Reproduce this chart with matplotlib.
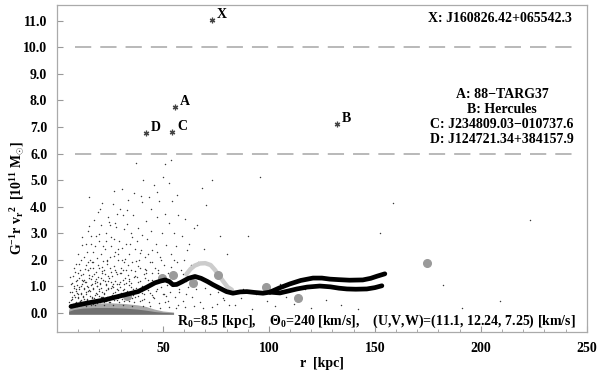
"""
Mass estimator G^-1 r v_r^2 against galactocentric radius r.
Scatter of tracer points, running mean curves, outlier stars.
"""

import matplotlib
matplotlib.use("Agg")
import matplotlib.pyplot as plt
import matplotlib.ticker as mticker

plt.rcParams["font.family"] = ["Liberation Serif", "DejaVu Serif"]
plt.rcParams["font.weight"] = "bold"
plt.rcParams["mathtext.fontset"] = "custom"
plt.rcParams["mathtext.rm"] = "Liberation Serif:bold"
plt.rcParams["mathtext.it"] = "Liberation Serif:bold"
plt.rcParams["mathtext.bf"] = "Liberation Serif:bold"

# ---- data (r in kpc, m in 10^11 Msun) ----
cloud_low = [
    (5.8, 0.42), (6.3, 0.78), (6.9, 0.52), (7.3, 1.12), (7.8, 0.66), (8.4, 0.38),
    (8.9, 0.84), (9.3, 1.22), (9.8, 0.58), (10.3, 0.97), (10.8, 0.44), (11.2, 0.73),
    (11.6, 1.08), (12.2, 0.62), (12.6, 0.92), (13.0, 0.41), (13.5, 0.78), (13.9, 1.18),
    (14.3, 0.52), (14.7, 0.99), (15.1, 0.36), (15.5, 0.81), (15.9, 1.28), (16.5, 0.57),
    (16.9, 0.93), (17.3, 0.43), (17.7, 1.14), (18.1, 0.68), (18.7, 0.38), (19.1, 1.02),
    (19.5, 0.49), (19.9, 0.83), (20.4, 0.42), (20.8, 0.95), (21.3, 0.61), (21.9, 1.24),
    (22.4, 0.74), (22.9, 0.45), (23.3, 1.06), (23.8, 0.58), (24.3, 0.88), (24.8, 0.39),
    (25.3, 1.16), (25.9, 0.67), (26.4, 0.97), (27.0, 0.47), (27.6, 0.79), (28.1, 1.09),
    (28.7, 0.56), (29.3, 0.41), (29.8, 0.96), (30.6, 0.52), (31.2, 0.87), (31.8, 0.43),
    (32.6, 1.14), (33.3, 0.63), (34.1, 0.46), (34.8, 0.99), (35.6, 0.57), (36.3, 0.39),
    (37.2, 0.82), (38.1, 0.62), (39.0, 0.44), (40.0, 0.76), (41.1, 0.51), (42.3, 0.93),
    (43.5, 0.42), (44.7, 0.68), (46.0, 0.55), (48.0, 0.38), (50.5, 0.72), (52.5, 0.45),
    (6.1, 1.35), (8.7, 1.55), (11.4, 1.42), (14.5, 1.62), (17.5, 1.47), (21.0, 1.58),
    (24.0, 1.39), (27.2, 1.63), (30.2, 1.49), (33.9, 1.26), (37.8, 1.36), (42.0, 1.51),
]

cloud_mid = [
    (7.6, 0.28), (8.2, 1.03), (9.7, 0.71), (10.6, 1.84), (11.3, 0.31), (12.4, 1.21),
    (12.9, 0.53), (13.2, 1.66), (14.4, 0.83), (14.9, 1.44), (15.7, 0.64), (16.3, 1.93),
    (16.7, 1.07), (17.1, 0.34), (18.3, 1.29), (18.8, 0.71), (19.3, 1.82), (20.1, 1.13),
    (20.7, 0.58), (21.1, 1.74), (22.0, 0.39), (22.7, 1.47), (23.1, 0.86), (23.6, 1.96),
    (24.1, 1.21), (24.6, 0.54), (25.1, 1.68), (25.7, 0.92), (26.1, 1.37), (26.8, 2.16),
    (27.3, 0.63), (27.9, 1.52), (28.4, 0.88), (28.9, 2.41), (29.6, 1.18), (30.4, 0.74),
    (31.0, 1.62), (31.6, 1.09), (32.3, 2.04), (32.9, 0.81), (33.6, 1.44), (34.4, 2.61),
    (35.0, 1.12), (35.9, 0.68), (36.7, 1.58), (37.4, 0.94), (38.3, 1.76), (39.2, 1.21),
    (39.8, 2.38), (40.7, 0.89), (41.6, 1.67), (42.8, 1.24), (43.9, 0.73), (44.9, 1.93),
    (45.6, 1.18), (46.7, 0.81), (47.6, 1.61), (48.9, 0.96), (50.1, 1.42), (51.6, 0.62),
    (53.6, 1.72), (55.6, 1.14), (57.6, 0.77), (59.6, 1.48), (61.6, 0.98), (9.4, 0.26),
    (13.6, 0.27), (17.8, 0.29), (22.2, 0.31), (26.6, 0.28), (31.3, 0.30), (35.3, 0.27),
    (40.4, 0.26), (44.1, 0.24), (48.5, 0.19), (52.9, 0.22), (56.1, 0.17), (60.6, 0.21),
    (64.8, 0.25), (68.7, 0.18), (73.2, 0.22), (11.9, 2.84), (15.2, 3.27), (19.6, 2.96),
    (24.7, 3.42), (28.2, 3.74), (33.2, 3.86), (36.2, 4.52), (40.1, 4.18), (44.4, 3.92),
    (47.2, 4.57), (50.9, 3.73), (56.6, 4.43),
]

cloud_high = [
    # r 5-12
    (6.5, 0.5), (6.8, 1.1), (7.2, 0.8), (7.5, 1.4), (7.7, 0.35), (8.0, 0.95),
    (8.2, 1.7), (8.5, 0.6), (8.8, 1.2), (9.0, 0.4), (9.1, 1.85), (9.4, 0.75),
    (9.6, 1.05), (9.9, 1.5), (10.1, 0.55), (10.3, 0.9), (10.5, 1.3), (10.8, 0.45),
    (11.0, 1.6), (11.2, 0.7), (11.4, 1.0), (11.6, 2.55), (11.7, 0.35), (11.9, 1.25),
    (11.5, 2.0), (7.0, 0.6), (8.4, 0.3), (10.0, 2.2), (9.2, 0.9), (11.1, 0.5),
    # r 12-22
    (12.2, 0.6), (12.4, 1.45), (12.6, 0.9), (12.9, 2.1), (13.1, 0.4), (13.3, 1.15),
    (13.5, 1.8), (13.7, 0.7), (13.9, 2.6), (14.1, 1.0), (14.3, 0.5), (14.5, 1.6),
    (14.7, 3.1), (14.9, 0.85), (15.1, 1.3), (15.3, 4.38), (15.4, 2.0), (15.6, 0.45),
    (15.8, 1.7), (16.0, 1.05), (16.2, 2.9), (16.4, 0.6), (16.6, 1.4), (16.8, 2.3),
    (17.0, 0.9), (17.2, 1.9), (17.4, 0.55), (17.6, 3.5), (17.8, 1.2), (18.0, 2.5),
    (18.2, 0.75), (18.4, 1.55), (18.6, 0.4), (18.8, 2.05), (19.0, 1.0), (19.2, 3.8),
    (19.4, 1.35), (19.6, 0.65), (19.8, 2.7), (20.0, 1.7), (20.2, 0.5), (20.4, 1.1),
    (20.6, 2.2), (20.8, 3.3), (21.0, 0.8), (21.2, 1.5), (21.4, 4.15), (21.6, 0.6),
    (21.8, 1.95), (12.7, 1.25), (13.8, 0.35), (14.8, 1.9), (15.9, 0.3), (16.9, 1.7),
    (17.9, 0.45), (18.9, 1.15), (19.9, 0.9), (20.9, 1.3), (21.9, 2.5), (14.0, 2.3),
    (16.1, 2.6), (18.3, 2.9), (20.5, 3.9),
    # r 22-32
    (22.1, 0.7), (22.3, 1.6), (22.6, 2.4), (22.9, 1.1), (23.2, 3.0), (23.4, 0.5),
    (23.7, 1.85), (24.0, 0.95), (24.3, 3.6), (24.5, 1.3), (24.8, 2.1), (25.1, 0.6),
    (25.4, 1.55), (25.6, 2.85), (25.9, 1.0), (26.2, 4.1), (26.4, 0.75), (26.7, 1.75),
    (27.0, 4.6), (27.2, 2.3), (27.5, 1.2), (27.8, 0.55), (28.0, 3.25), (28.3, 1.45),
    (28.6, 2.0), (28.9, 0.85), (29.1, 2.7), (29.4, 1.1), (29.7, 3.9), (30.0, 0.65),
    (30.2, 1.7), (30.5, 4.65), (30.8, 2.45), (31.1, 1.25), (31.4, 0.9), (31.7, 3.15),
    (22.5, 1.2), (23.5, 2.0), (24.5, 0.4), (25.5, 2.5), (26.5, 1.1), (27.5, 3.4),
    (28.5, 0.5), (29.5, 1.5), (30.5, 2.0), (31.5, 1.9), (23.0, 2.7), (25.0, 3.3),
    (27.0, 2.8), (29.0, 2.2), (31.0, 3.7),
    # r 32-42
    (32.1, 1.3), (32.4, 2.6), (32.7, 0.7), (33.0, 3.35), (33.3, 1.8), (33.6, 4.25),
    (33.9, 1.05), (34.2, 2.2), (34.5, 0.55), (34.8, 3.0), (35.1, 1.6), (35.4, 2.85),
    (35.7, 0.9), (36.0, 3.7), (36.3, 1.35), (36.6, 2.4), (36.9, 0.6), (37.2, 1.95),
    (37.5, 5.65), (37.8, 2.7), (38.1, 1.15), (38.4, 3.2), (38.7, 0.8), (39.0, 1.7),
    (39.3, 2.25), (39.6, 4.4), (39.9, 1.0), (40.2, 2.95), (40.6, 5.0), (40.9, 1.45),
    (41.2, 0.7), (41.5, 2.1), (41.8, 3.45), (32.5, 1.6), (34.0, 1.2), (35.5, 1.9),
    (37.0, 1.4), (38.5, 2.0), (40.0, 0.5), (41.5, 1.3),
    # r 42-52
    (42.2, 1.6), (42.6, 2.8), (43.0, 0.85), (43.4, 4.35), (43.8, 1.9), (44.2, 3.1),
    (44.6, 1.25), (45.0, 2.35), (45.4, 0.6), (45.8, 4.8), (46.2, 1.7), (46.6, 2.6),
    (47.0, 3.6), (47.4, 0.9), (47.8, 1.5), (48.2, 4.2), (48.6, 2.1), (49.0, 1.35),
    (49.4, 3.0), (49.8, 0.7), (50.2, 5.1), (50.6, 1.8), (51.0, 5.6), (51.4, 2.55),
    (51.8, 1.05), (43.0, 2.2), (45.0, 1.5), (47.0, 2.3), (49.0, 2.0), (51.0, 0.4),
    # r 52-62
    (52.3, 1.5), (52.8, 3.4), (53.3, 0.8), (53.8, 2.2), (54.0, 5.77), (54.4, 4.2),
    (54.8, 1.3), (55.3, 3.0), (55.8, 0.6), (56.3, 2.5), (56.8, 1.9), (57.3, 3.7),
    (57.8, 0.9), (58.3, 1.6), (58.8, 2.9), (59.3, 0.45), (59.8, 2.0), (60.3, 3.55),
    (60.8, 1.2), (61.3, 2.35), (53.0, 4.9), (55.0, 2.0), (57.0, 0.3), (59.0, 1.2),
    (61.0, 0.7),
    # r 62-82, sparse
    (62.5, 2.6), (63.5, 0.6), (64.5, 3.2), (65.5, 0.9), (66.5, 1.9), (67.5, 0.4),
    (68.5, 4.7), (69.5, 2.4), (70.5, 4.07), (72.0, 0.7), (73.0, 5.0), (74.5, 1.6),
    (75.5, 0.35), (77.0, 2.9), (78.5, 0.55), (80.0, 2.2), (81.0, 0.3), (63.0, 1.8),
    (66.0, 3.3), (70.0, 0.95), (76.0, 0.8), (79.0, 0.5),
    # r > 82, very sparse
    (84, 0.3), (87, 0.55), (90, 2.9), (92, 0.15), (96, 5.1), (99, 0.45),
    (103, 0.25), (108, 0.6), (112, 0.35), (120, 0.2), (127, 0.5), (134, 0.3),
    (142, 0.15), (152.5, 3.0), (158.5, 4.15), (182, 1.06), (191, 0.2), (209, 0.45),
    (223, 3.5), (88, 0.9), (94, 0.7), (105, 1.1), (117, 0.9),
]

# dense low band of points near zero (outer lighter and inner darker part)
band_r = [5.5, 8, 12, 18, 25, 32, 38, 42, 46, 50, 55]
band_top = [0.14, 0.26, 0.34, 0.37, 0.38, 0.35, 0.30, 0.24, 0.14, 0.07, 0.03]
band_core = [0.06, 0.13, 0.18, 0.20, 0.20, 0.18, 0.14, 0.10, 0.05, 0.02, 0.0]

# running estimator curves
main_r = [6.6, 10, 15, 22.6, 30, 38.2, 42, 46.2, 49, 51, 53, 54.7, 56.5, 59, 62,
          65.1, 68, 71, 73.6, 77, 80, 83, 86.5, 89.6, 93, 97.2, 100.5]
main_m = [0.24, 0.30, 0.38, 0.49, 0.64, 0.80, 0.95, 1.13, 1.20, 1.24, 1.18, 1.06,
          1.07, 1.17, 1.30, 1.37, 1.30, 1.18, 1.06, 0.92, 0.80, 0.74, 0.79, 0.80,
          0.77, 0.74, 0.78]
upper_r = [100.5, 105, 109.9, 115, 120.8, 125, 128.8, 133, 138, 144.3, 148, 151, 154.7]
upper_m = [0.78, 0.94, 1.09, 1.22, 1.31, 1.31, 1.27, 1.25, 1.23, 1.24, 1.30, 1.38, 1.47]
lower_r = [100.5, 105.2, 109, 113.2, 118, 124, 129, 133, 136.8, 141, 146.2, 150, 153.3]
lower_m = [0.78, 0.75, 0.82, 0.90, 0.97, 1.01, 0.98, 0.93, 0.90, 0.89, 0.90, 0.95, 1.02]
arc_r = [61, 63, 65, 67.5, 70, 72.5, 74.5, 76.5, 78.5, 80.5, 82.5]
arc_m = [1.45, 1.65, 1.78, 1.86, 1.87, 1.80, 1.62, 1.40, 1.18, 0.97, 0.87]

# binned points (large grey dots)
bin_r = [32.9, 49.4, 54.7, 64.2, 75.9, 98.6, 113.7, 174.5]
bin_m = [0.62, 1.32, 1.43, 1.13, 1.43, 0.98, 0.57, 1.89]

# outlier objects
star_names = ["X", "A", "D", "C", "B"]
star_r = [73.0, 55.7, 41.8, 54.4, 131.9]
star_m = [11.04, 7.76, 6.79, 6.83, 7.12]

limit_levels = [6.0, 10.0]

id_lines = [
    "A: 88\u2212TARG37",
    "B: Hercules",
    "C: J234809.03\u2212010737.6",
    "D: J124721.34+384157.9",
]

# ---- figure ----
fig = plt.figure(figsize=(6.0, 3.73), dpi=100)
ax = fig.add_axes([0.095, 0.110, 0.883, 0.877])

ax.fill_between(band_r, -0.05, band_top, color="#a8a8a8", linewidth=0, zorder=1)
ax.fill_between(band_r, -0.05, band_core, color="#707070", linewidth=0, zorder=1)

for pts in (cloud_low, cloud_mid, cloud_high):
    ax.scatter([p[0] for p in pts], [p[1] for p in pts],
               s=1.1, color="#3a3a3a", linewidths=0, zorder=2)

ax.plot(arc_r, arc_m, color="#cccccc", linewidth=3.2, zorder=3,
        solid_capstyle="round")
ax.plot(bin_r, bin_m, linestyle="none", marker="o", markersize=5.5,
        color="#9a9a9a", zorder=3)

for rr, mm in [(main_r, main_m), (upper_r, upper_m), (lower_r, lower_m)]:
    ax.plot(rr, mm, color="black", linewidth=3.4, zorder=4,
            solid_capstyle="round", solid_joinstyle="round")

for lvl in limit_levels:
    ax.plot([8.5, 243], [lvl, lvl], color="#b3b3b3", linewidth=1.3,
            dashes=(9, 5), zorder=1)

ax.plot(star_r, star_m, linestyle="none", marker=(6, 2, 0), markersize=4,
        color="#444444", markeredgewidth=0.9, zorder=5)
for name, rr, mm in zip(star_names, star_r, star_m):
    ax.text(rr + 2.3, mm + 0.2, name, fontsize=10, fontweight="bold",
            ha="left", va="center")

ax.text(243, 11.1, "X: J160826.42+065542.3", fontsize=10, fontweight="bold",
        ha="right", va="center")
ax.text(210, 7.36, "\n".join(id_lines), fontsize=10, fontweight="bold",
        ha="center", va="center", multialignment="center", linespacing=1.2)
ax.text(245, -0.32,
        "R$_0$=8.5 [kpc],    \u0398$_0$=240 [km/s],    "
        "(U,V,W)=(11.1, 12.24, 7.25) [km/s]",
        fontsize=10, fontweight="bold", ha="right", va="center")

ax.set_xlim(0, 250)
ax.set_ylim(-0.72, 11.6)
ax.xaxis.set_major_locator(mticker.MultipleLocator(50))
ax.xaxis.set_minor_locator(mticker.MultipleLocator(10))
ax.yaxis.set_major_locator(mticker.MultipleLocator(1))
ax.yaxis.set_major_formatter(mticker.FormatStrFormatter("%.1f"))
ax.set_xticks([50, 100, 150, 200, 250])
ax.tick_params(direction="in", color="#999999", length=4, width=0.8,
               labelsize=10, pad=7)
ax.tick_params(which="minor", direction="in", color="#999999", length=2, width=0.6)
for sp in ax.spines.values():
    sp.set_color("#aaaaaa")
    sp.set_linewidth(0.9)

ax.set_xlabel("r  [kpc]", fontsize=10, fontweight="bold", labelpad=2)
ax.set_ylabel("G$^{-1}$r v$_r$$^2$  [10$^{11}$ M$_{\\odot}$]", fontsize=10,
              fontweight="bold")
ax.yaxis.set_label_coords(-0.057, 0.41)

fig.savefig("out.png", dpi=100)
